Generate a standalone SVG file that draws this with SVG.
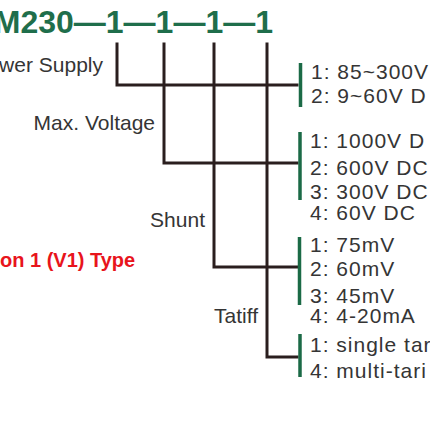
<svg xmlns="http://www.w3.org/2000/svg" width="430" height="430" viewBox="0 0 430 430">
<style>
.title{font-family:"Liberation Sans",Arial,sans-serif;font-weight:bold;font-size:32px;fill:#1f6e4b}
.lbl{font-family:"Liberation Sans",Arial,sans-serif;font-size:21px;fill:#353535}
.opt{font-family:"Liberation Sans",Arial,sans-serif;font-size:21px;fill:#353535;letter-spacing:1px}
.red{font-family:"Liberation Sans",Arial,sans-serif;font-weight:bold;font-size:20px;fill:#e8141c}
.wire{fill:none;stroke:#2a1e1e;stroke-width:3;stroke-linecap:square;stroke-linejoin:miter}
.bar{stroke:#1b6a46;stroke-width:3.5}
</style>
<rect width="430" height="430" fill="#fff"/>
<g id="title"><text class="title" x="273" y="33" text-anchor="end">M230—1—1—1—1</text></g>
<g id="caption"><text class="red" x="0" y="267">on 1 (V1) Type</text></g>
<g id="connectors">
<path class="wire" d="M117 44 V85 H297"/>
<path class="wire" d="M164 44 V163 H297"/>
<path class="wire" d="M214 44 V267 H297"/>
<path class="wire" d="M267 44 V357 H297"/>
</g>
<g id="power-supply">
<text class="lbl" x="103" y="72" text-anchor="end">wer Supply</text>
<line class="bar" x1="300.5" y1="63" x2="300.5" y2="107"/>
<text class="opt" x="311" y="79">1: 85~300V</text>
<text class="opt" x="311" y="103">2: 9~60V D</text>
</g>
<g id="max-voltage">
<text class="lbl" x="155" y="130" text-anchor="end">Max. Voltage</text>
<line class="bar" x1="300" y1="132" x2="300" y2="200"/>
<text class="opt" x="310" y="148">1: 1000V D</text>
<text class="opt" x="310" y="175">2: 600V DC</text>
<text class="opt" x="310" y="199">3: 300V DC</text>
<text class="opt" x="310" y="220">4: 60V DC</text>
</g>
<g id="shunt">
<text class="lbl" x="205" y="227" text-anchor="end">Shunt</text>
<line class="bar" x1="299.5" y1="237" x2="299.5" y2="305"/>
<text class="opt" x="310" y="252">1: 75mV</text>
<text class="opt" x="310" y="276">2: 60mV</text>
<text class="opt" x="310" y="303">3: 45mV</text>
<text class="opt" x="310" y="323">4: 4-20mA</text>
</g>
<g id="tariff">
<text class="lbl" x="258" y="323" text-anchor="end">Tatiff</text>
<line class="bar" x1="300" y1="334" x2="300" y2="377"/>
<text class="opt" x="310" y="352">1: single tar</text>
<text class="opt" x="310" y="378">4: multi-tari</text>
</g>
</svg>
